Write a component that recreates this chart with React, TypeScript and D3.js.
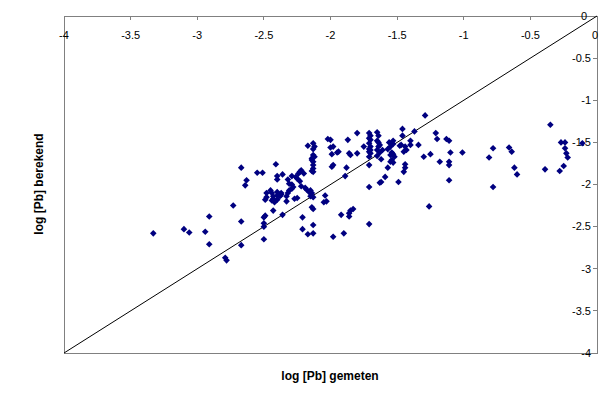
import React from "react";
import * as d3 from "d3";

const measured = [
  -3.33, -3.10, -3.06, -2.94, -2.91, -2.91, -2.73, -2.79, -2.78, -2.67,
  -2.67, -2.67, -2.64, -2.63, -2.55, -2.51, -2.41, -2.50, -2.49, -2.50,
  -2.50, -2.50, -2.43, -2.36, -2.40, -2.40, -2.36, -2.32, -2.31, -2.29,
  -2.29, -2.26, -2.25, -2.23, -2.22, -2.20, -2.24, -2.45, -2.48, -2.49,
  -2.48, -2.43, -2.43, -2.42, -2.40, -2.40, -2.40, -2.38, -2.37, -2.37,
  -2.33, -2.32, -2.31, -2.29, -2.28, -2.27, -2.25, -2.33, -2.44, -2.44,
  -2.23, -2.22, -2.19, -2.18, -2.16, -2.15, -2.14, -2.15, -2.13, -2.17,
  -2.13, -2.12, -2.13, -2.13, -2.12, -2.14, -2.14, -2.13, -2.13, -2.13,
  -2.14, -2.13, -2.04, -2.03, -2.05, -2.14, -2.13, -2.21, -2.21, -2.17,
  -2.13, -2.13, -2.02, -2.00, -1.98, -2.00, -1.99, -1.94, -1.95, -1.98,
  -1.99, -1.87, -1.80, -1.86, -1.85, -1.80, -1.75, -1.88, -1.89, -1.83,
  -1.85, -1.86, -1.86, -1.92, -1.98, -1.90, -1.71,
  -1.71, -1.70, -1.71, -1.70, -1.71, -1.70, -1.71, -1.70, -1.71, -1.70, -1.71, -1.71,
  -1.65, -1.64, -1.65, -1.64, -1.64, -1.65, -1.65,
  -1.71, -1.63, -1.63, -1.56, -1.53, -1.53, -1.55, -1.57, -1.48, -1.47,
  -1.44, -1.40, -1.40, -1.43, -1.46, -1.37, -1.46, -1.34, -1.29, -1.21,
  -1.20, -1.13, -1.11, -1.54, -1.53, -1.55, -1.52, -1.54, -1.53, -1.55,
  -1.45, -1.61, -1.63, -1.62, -1.25, -1.30, -1.44, -1.44, -1.45, -1.57,
  -1.59, -1.62, -1.49, -1.18, -1.11, -1.26, -1.10, -1.01, -1.11, -1.11,
  -0.78, -0.81, -0.78, -0.66, -0.64, -0.62, -0.60, -0.39, -0.35, -0.28,
  -0.25, -0.27, -0.24, -0.24, -0.23, -0.22, -0.11,
];

const calculated = [
  -2.58, -2.53, -2.57, -2.56, -2.38, -2.71, -2.25, -2.87, -2.90, -1.80,
  -2.44, -2.72, -2.01, -1.95, -1.86, -1.86, -1.76, -2.39, -2.37, -2.46,
  -2.50, -2.65, -2.31, -2.36, -1.90, -1.94, -1.88, -1.94, -1.99, -2.00,
  -1.90, -1.91, -1.93, -1.85, -1.83, -1.87, -1.87, -2.07, -2.10, -2.18,
  -2.15, -2.14, -2.17, -2.21, -2.13, -2.09, -2.18, -2.14, -2.12, -2.10,
  -2.20, -2.10, -2.07, -2.05, -2.03, -2.17, -2.16, -2.14, -2.10, -2.19,
  -1.96, -2.02, -2.04, -2.06, -2.09, -2.07, -2.10, -2.14, -2.15, -1.54,
  -1.51, -1.55, -1.58, -1.65, -1.67, -1.69, -1.71, -1.73, -1.77, -1.81,
  -1.84, -1.85, -2.13, -2.20, -2.21, -2.27, -2.29, -2.39, -2.53, -2.59,
  -2.58, -2.48, -1.46, -1.47, -1.55, -1.56, -1.64, -1.61, -1.62, -1.77,
  -1.79, -1.47, -1.39, -1.63, -1.65, -1.63, -1.55, -1.80, -1.90, -2.29,
  -2.31, -2.34, -2.38, -2.36, -2.62, -2.58, -2.47,
  -1.39, -1.42, -1.45, -1.47, -1.51, -1.55, -1.58, -1.59, -1.61, -1.63, -1.67, -1.77,
  -1.38, -1.42, -1.48, -1.50, -1.55, -1.59, -1.66,
  -2.03, -1.98, -1.53, -1.50, -1.48, -1.52, -1.55, -1.58, -1.54, -1.53,
  -1.55, -1.48, -1.53, -1.59, -1.34, -1.37, -1.42, -1.53, -1.18, -1.39,
  -1.46, -1.46, -1.48, -1.62, -1.64, -1.65, -1.67, -1.71, -1.74, -1.73,
  -1.61, -1.59, -1.62, -1.70, -1.64, -1.67, -1.76, -1.80, -1.85, -1.80,
  -1.91, -1.97, -1.97, -1.73, -1.95, -2.26, -1.62, -1.62, -1.73, -1.77,
  -1.57, -1.68, -2.03, -1.56, -1.61, -1.80, -1.88, -1.82, -1.29, -1.84,
  -1.78, -1.50, -1.50, -1.57, -1.63, -1.68, -1.51,
];

const xTicks = [-4, -3.5, -3, -2.5, -2, -1.5, -1, -0.5, 0];
const yTicks = [0, -0.5, -1, -1.5, -2, -2.5, -3, -3.5, -4];
const xTitle = "log [Pb] gemeten";
const yTitle = "log [Pb] berekend";

const W = 606;
const H = 400;
const left = 64, right = 597, top = 16, bottom = 353;

export default function App() {
  const x = d3.scaleLinear().domain([-4, 0]).range([left, right]);
  const y = d3.scaleLinear().domain([0, -4]).range([top, bottom]);
  const points = measured.map((m, i) => [m, calculated[i]] as [number, number]);
  const diag = d3.line<[number, number]>().x((d) => x(d[0])).y((d) => y(d[1]));
  const r = 3.3;
  const diamond = `M0,${-r}L${r},0L0,${r}L${-r},0Z`;
  const font = "Arial, 'Liberation Sans', sans-serif";
  return (
    <svg
      width={W}
      height={H}
      style={{ position: "absolute", left: 0, top: 0, background: "#fff" }}
      fontFamily={font}
    >
      <rect x={0} y={0} width={W} height={H} fill="#fff" />
      <rect
        x={left}
        y={top}
        width={right - left}
        height={bottom - top}
        fill="none"
        stroke="#808080"
        strokeWidth={1}
        shapeRendering="crispEdges"
      />
      {xTicks.map((t) => (
        <g key={"x" + t}>
          <line
            x1={x(t)}
            x2={x(t)}
            y1={top}
            y2={top + 4}
            stroke="#808080"
            shapeRendering="crispEdges"
          />
          <text
            x={t === 0 ? x(t) - 2 : x(t)}
            y={39}
            fontSize={11}
            textAnchor="middle"
            fill="#000"
          >
            {t}
          </text>
        </g>
      ))}
      {yTicks.map((t) => (
        <g key={"y" + t}>
          <line
            x1={right - 4}
            x2={right}
            y1={y(t)}
            y2={y(t)}
            stroke="#808080"
            shapeRendering="crispEdges"
          />
          <text
            x={t === 0 ? 587 : 591}
            y={y(t)}
            dy="0.35em"
            fontSize={11}
            textAnchor="end"
            fill="#000"
          >
            {t}
          </text>
        </g>
      ))}
      <path
        d={diag([
          [-4, -4],
          [0, 0],
        ]) || ""}
        stroke="#000"
        strokeWidth={1}
        fill="none"
      />
      {points.map((p, i) => (
        <path
          key={i}
          d={diamond}
          transform={`translate(${x(p[0])},${y(p[1])})`}
          fill="#000080"
        />
      ))}
      <text
        x={330}
        y={380}
        fontSize={12}
        fontWeight="bold"
        textAnchor="middle"
        fill="#000"
      >
        {xTitle}
      </text>
      <text
        transform={`translate(43,${184}) rotate(-90)`}
        fontSize={12}
        fontWeight="bold"
        textAnchor="middle"
        fill="#000"
      >
        {yTitle}
      </text>
    </svg>
  );
}
